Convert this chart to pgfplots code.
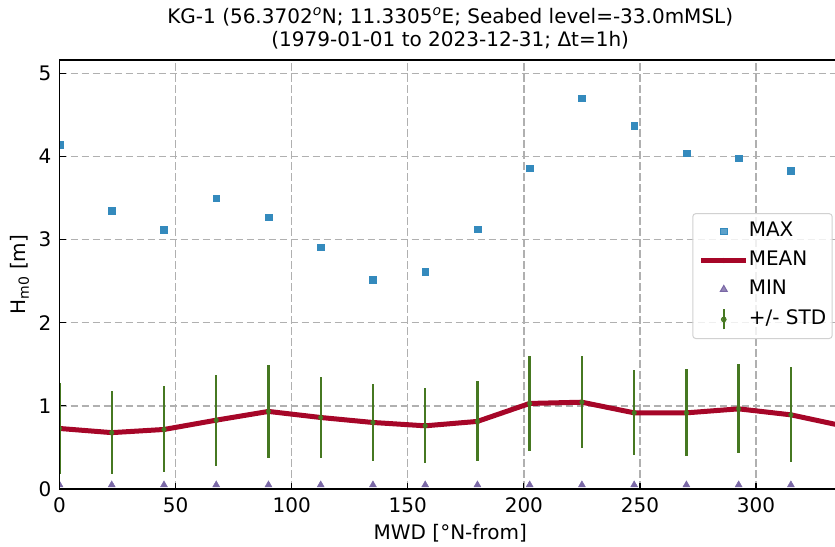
\documentclass[border=0pt]{standalone}
\usepackage{fontspec}
\setmainfont{DejaVu Sans}
\usepackage{pgfplots}
\pgfplotsset{compat=1.18}
\definecolor{cmax}{HTML}{348ABD}
\definecolor{cmean}{HTML}{A60628}
\definecolor{cmin}{HTML}{7A68A6}
\definecolor{cstd}{HTML}{467821}
\definecolor{cgrid}{HTML}{B0B0B0}
\newcommand{\ff}{\fontsize{20bp}{23.3bp}\selectfont}
\begin{document}
\ff
\begin{tikzpicture}
\begin{axis}[
  name=ax,
  scale only axis, width=775.5bp, height=429bp,
  xmin=0, xmax=334, ymin=0, ymax=5.16,
  xtick={0,50,100,150,200,250,300}, ytick={0,1,2,3,4,5},
  tick align=inside, xtick pos=bottom, ytick pos=left,
  major tick length=6.5bp,
  tick style={black, line width=1.2bp},
  axis line style={draw=none},
  grid=major,
  major grid style={cgrid, line width=1.4bp, dash pattern=on 7.5bp off 3.5bp},
  clip marker paths=true,
  /pgf/number format/assume math mode=true,
  every tick label/.append style={font=\ff},
  xticklabel style={anchor=base, yshift=-23.5bp},
  yticklabel style={anchor=east, inner sep=0pt, xshift=-8bp},
  every axis x label/.style={at={(axis description cs:0.5,0)}, anchor=base, yshift=-50bp, xshift=3bp, font=\ff},
  every axis y label/.style={at={(axis description cs:-0.0438,0.5)}, rotate=90, anchor=base, font=\ff},
  every axis title/.style={at={(axis description cs:0.5,1)}, anchor=south, yshift=4bp, xshift=3bp, align=center, font=\ff},
  title={KG-1 (56.3702\textsuperscript{\itshape o}N; 11.3305\textsuperscript{\itshape o}E; Seabed level=-33.0mMSL)\\(1979-01-01 to 2023-12-31; Δt=1h)},
  xlabel={MWD [°N-from]},
  ylabel={H\textsubscript{m0} [m]},
  legend style={at={(0.997,0.643)}, anchor=north east, draw=black!18, line width=1bp,
    fill=white, fill opacity=0.8, text opacity=1, rounded corners=3bp,
    inner xsep=6bp, inner ysep=8bp, row sep=8.9bp, font=\ff,
    nodes={inner sep=0pt, text height=15bp, text depth=5bp},
    /tikz/every even column/.append style={column sep=15bp}},
  legend cell align=left,
]
\addplot[only marks, mark=square*, mark size=3.3bp, color=cmax,
  legend image code/.code={\path (0bp,0bp) (45bp,0bp); \draw[mark repeat=1] plot coordinates {(22.5bp,0bp)};}]
  table {
x y
0 4.14
22.5 3.345
45 3.12
67.5 3.50
90 3.27
112.5 2.91
135 2.52
157.5 2.615
180 3.125
202.5 3.86
225 4.70
247.5 4.37
270 4.04
292.5 3.98
315 3.83
};
\addlegendentry{MAX}
\addplot[color=cmean, line width=5bp, mark=*, mark size=2.3bp, mark options={line width=0.5bp},
  legend image code/.code={\draw[mark repeat=2,mark phase=2] plot coordinates {(0bp,0bp) (22.5bp,0bp) (45bp,0bp)};}]
  table {
x y
0 0.728
22.5 0.678
45 0.716
67.5 0.828
90 0.933
112.5 0.860
135 0.800
157.5 0.760
180 0.813
202.5 1.029
225 1.044
247.5 0.916
270 0.916
292.5 0.964
315 0.892
337.5 0.758
};
\addlegendentry{MEAN}
\addplot[only marks, mark=triangle*, mark size=4bp, color=cmin,
  legend image code/.code={\path (0bp,0bp) (45bp,0bp); \draw[mark repeat=1] plot coordinates {(22.5bp,0bp)};}]
  table {
x y
0 0.05
22.5 0.05
45 0.05
67.5 0.05
90 0.05
112.5 0.05
135 0.05
157.5 0.05
180 0.05
202.5 0.05
225 0.05
247.5 0.05
270 0.05
292.5 0.05
315 0.05
};
\addlegendentry{MIN}
\addplot[only marks, mark=*, mark size=2.3bp, color=cstd,
  legend image code/.code={\path (0bp,0bp) (45bp,0bp); \draw[cstd, line width=2.2bp] (22.5bp,-10bp) -- (22.5bp,10bp); \fill[cstd] (22.5bp,0bp) circle (2.3bp);},
  error bars/.cd, y dir=both, y explicit, error mark=none,
  error bar style={line width=2.4bp, cstd}]
  table[x=x, y=y, y error=e] {
x y e
0 0.728 0.542
22.5 0.678 0.502
45 0.716 0.517
67.5 0.828 0.549
90 0.933 0.560
112.5 0.860 0.485
135 0.800 0.460
157.5 0.760 0.450
180 0.813 0.480
202.5 1.029 0.570
225 1.044 0.555
247.5 0.916 0.510
270 0.916 0.525
292.5 0.964 0.536
315 0.892 0.570
};
\addlegendentry{+/- STD}
\end{axis}
\draw[line width=1.5bp, black] (ax.north east) -- (ax.north west) -- (ax.south west) -- (ax.south east);
\pgfresetboundingbox
\path ([xshift=-59.5bp, yshift=-58bp]ax.south west) rectangle ([yshift=60bp]ax.north east);
\end{tikzpicture}
\end{document}
